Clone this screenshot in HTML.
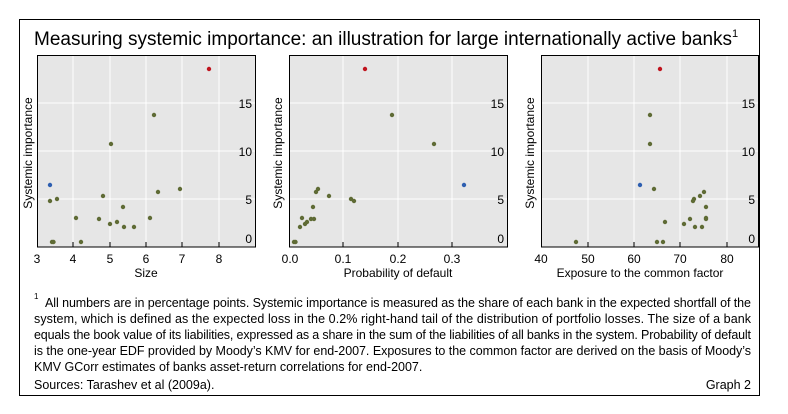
<!DOCTYPE html>
<html><head><meta charset="utf-8"><style>
html,body{margin:0;padding:0;background:#fff;}
svg{display:block;font-family:"Liberation Sans",Arial,sans-serif;}
</style></head><body>
<svg width="788" height="414" viewBox="0 0 788 414" xmlns="http://www.w3.org/2000/svg">
<rect x="19.5" y="19.5" width="740" height="376" fill="#fff" stroke="#000" stroke-width="1"/>
<text x="34" y="45" font-size="19" fill="#000">Measuring systemic importance: an illustration for large internationally active banks<tspan font-size="11" dy="-8">1</tspan></text>

<!-- Panel 1 -->
<g>
<rect x="37" y="55" width="218" height="192" fill="#e6e6e6"/>
<g stroke="#fff" stroke-width="1">
<line x1="73" y1="55" x2="73" y2="247"/><line x1="110" y1="55" x2="110" y2="247"/><line x1="146" y1="55" x2="146" y2="247"/><line x1="182" y1="55" x2="182" y2="247"/><line x1="219" y1="55" x2="219" y2="247"/>
<line x1="37" y1="199" x2="255" y2="199"/><line x1="37" y1="151" x2="255" y2="151"/><line x1="37" y1="103" x2="255" y2="103"/>
</g>
<rect x="37.5" y="55.5" width="218" height="191.5" fill="none" stroke="#000"/>
<g stroke="#000"><line x1="73" y1="242" x2="73" y2="247"/><line x1="110" y1="242" x2="110" y2="247"/><line x1="146" y1="242" x2="146" y2="247"/><line x1="182" y1="242" x2="182" y2="247"/><line x1="219" y1="242" x2="219" y2="247"/></g>
<g font-size="12" text-anchor="end" fill="#000"><text x="252" y="243">0</text><text x="252" y="204">5</text><text x="252" y="156">10</text><text x="252" y="108">15</text></g>
<g font-size="12" text-anchor="middle" fill="#000"><text x="37" y="263">3</text><text x="73" y="263">4</text><text x="110" y="263">5</text><text x="146" y="263">6</text><text x="182" y="263">7</text><text x="219" y="263">8</text>
<text x="146" y="277">Size</text></g>
<text transform="translate(32,153) rotate(-90)" font-size="12" text-anchor="middle">Systemic importance</text>
<g fill="#5f6b35">
<circle cx="154" cy="115" r="2.2"/><circle cx="111" cy="144" r="2.2"/><circle cx="180" cy="189" r="2.2"/><circle cx="158" cy="192" r="2.2"/><circle cx="103" cy="196" r="2.2"/><circle cx="57" cy="199" r="2.2"/><circle cx="50" cy="201" r="2.2"/><circle cx="123" cy="207" r="2.2"/><circle cx="76" cy="218" r="2.2"/><circle cx="99" cy="219" r="2.2"/><circle cx="150" cy="218" r="2.2"/><circle cx="117" cy="222" r="2.2"/><circle cx="110" cy="224" r="2.2"/><circle cx="124" cy="227" r="2.2"/><circle cx="134" cy="227" r="2.2"/><circle cx="52" cy="242" r="2.2"/><circle cx="53.5" cy="242" r="2.2"/><circle cx="81" cy="242" r="2.2"/>
</g>
<circle cx="209" cy="69" r="2.2" fill="#c0141e"/><circle cx="50" cy="185" r="2.2" fill="#2e5fb0"/>
</g>

<!-- Panel 2 -->
<g>
<rect x="289" y="55" width="218" height="192" fill="#e6e6e6"/>
<g stroke="#fff" stroke-width="1">
<line x1="343" y1="55" x2="343" y2="247"/><line x1="398" y1="55" x2="398" y2="247"/><line x1="452" y1="55" x2="452" y2="247"/>
<line x1="289" y1="199" x2="507" y2="199"/><line x1="289" y1="151" x2="507" y2="151"/><line x1="289" y1="103" x2="507" y2="103"/>
</g>
<rect x="289.5" y="55.5" width="218" height="191.5" fill="none" stroke="#000"/>
<g stroke="#000"><line x1="343" y1="242" x2="343" y2="247"/><line x1="398" y1="242" x2="398" y2="247"/><line x1="452" y1="242" x2="452" y2="247"/></g>
<g font-size="12" text-anchor="end"><text x="504" y="243">0</text><text x="504" y="204">5</text><text x="504" y="156">10</text><text x="504" y="108">15</text></g>
<g font-size="12" text-anchor="middle"><text x="290" y="263">0.0</text><text x="343" y="263">0.1</text><text x="398" y="263">0.2</text><text x="452" y="263">0.3</text>
<text x="398" y="277">Probability of default</text></g>
<text transform="translate(282,153) rotate(-90)" font-size="12" text-anchor="middle">Systemic importance</text>
<g fill="#5f6b35">
<circle cx="392" cy="115" r="2.2"/><circle cx="434" cy="144" r="2.2"/><circle cx="318" cy="189" r="2.2"/><circle cx="316" cy="192" r="2.2"/><circle cx="329" cy="196" r="2.2"/><circle cx="351" cy="199" r="2.2"/><circle cx="354" cy="201" r="2.2"/><circle cx="313" cy="207" r="2.2"/><circle cx="302" cy="218" r="2.2"/><circle cx="311" cy="219" r="2.2"/><circle cx="314" cy="219" r="2.2"/><circle cx="307" cy="222" r="2.2"/><circle cx="305" cy="224" r="2.2"/><circle cx="300" cy="227" r="2.2"/><circle cx="294" cy="242" r="2.2"/><circle cx="295.5" cy="242" r="2.2"/>
</g>
<circle cx="365" cy="69" r="2.2" fill="#c0141e"/><circle cx="464" cy="185" r="2.2" fill="#2e5fb0"/>
</g>

<!-- Panel 3 -->
<g>
<rect x="541" y="55" width="217" height="192" fill="#e6e6e6"/>
<g stroke="#fff" stroke-width="1">
<line x1="588" y1="55" x2="588" y2="247"/><line x1="634" y1="55" x2="634" y2="247"/><line x1="680" y1="55" x2="680" y2="247"/><line x1="727" y1="55" x2="727" y2="247"/>
<line x1="541" y1="199" x2="758" y2="199"/><line x1="541" y1="151" x2="758" y2="151"/><line x1="541" y1="103" x2="758" y2="103"/>
</g>
<rect x="541.5" y="55.5" width="217" height="191.5" fill="none" stroke="#000"/>
<g stroke="#000"><line x1="588" y1="242" x2="588" y2="247"/><line x1="634" y1="242" x2="634" y2="247"/><line x1="680" y1="242" x2="680" y2="247"/><line x1="727" y1="242" x2="727" y2="247"/></g>
<g font-size="12" text-anchor="end"><text x="755" y="243">0</text><text x="755" y="204">5</text><text x="755" y="156">10</text><text x="755" y="108">15</text></g>
<g font-size="12" text-anchor="middle"><text x="541" y="263">40</text><text x="588" y="263">50</text><text x="634" y="263">60</text><text x="680" y="263">70</text><text x="727" y="263">80</text>
<text x="640" y="277">Exposure to the common factor</text></g>
<text transform="translate(534,153) rotate(-90)" font-size="12" text-anchor="middle">Systemic importance</text>
<g fill="#5f6b35">
<circle cx="650" cy="115" r="2.2"/><circle cx="650" cy="144" r="2.2"/><circle cx="654" cy="189" r="2.2"/><circle cx="704" cy="192" r="2.2"/><circle cx="700" cy="196" r="2.2"/><circle cx="694" cy="199" r="2.2"/><circle cx="693" cy="201" r="2.2"/><circle cx="706" cy="207" r="2.2"/><circle cx="690" cy="219" r="2.2"/><circle cx="706" cy="218" r="2.2"/><circle cx="706" cy="219" r="2.2"/><circle cx="665" cy="222" r="2.2"/><circle cx="684" cy="224" r="2.2"/><circle cx="695" cy="227" r="2.2"/><circle cx="702" cy="227" r="2.2"/><circle cx="576" cy="242" r="2.2"/><circle cx="657" cy="242" r="2.2"/><circle cx="663" cy="242" r="2.2"/>
</g>
<circle cx="660" cy="69" r="2.2" fill="#c0141e"/><circle cx="640" cy="185" r="2.2" fill="#2e5fb0"/>
</g>

<!-- Footnote -->
<g font-size="12.5" fill="#000">
<text x="34" y="299" font-size="8">1</text>
<text x="45" y="307" textLength="706" lengthAdjust="spacing">All numbers are in percentage points. Systemic importance is measured as the share of each bank in the expected shortfall of the</text>
<text x="34" y="323" textLength="717" lengthAdjust="spacing">system, which is defined as the expected loss in the 0.2% right-hand tail of the distribution of portfolio losses. The size of a bank</text>
<text x="34" y="339" textLength="717" lengthAdjust="spacing">equals the book value of its liabilities, expressed as a share in the sum of the liabilities of all banks in the system. Probability of default</text>
<text x="34" y="355" textLength="717" lengthAdjust="spacing">is the one-year EDF provided by Moody’s KMV for end-2007. Exposures to the common factor are derived on the basis of Moody’s</text>
<text x="34" y="371">KMV GCorr estimates of banks asset-return correlations for end-2007.</text>
<text x="34" y="389">Sources: Tarashev et al (2009a).</text>
<text x="751" y="389" text-anchor="end">Graph 2</text>
</g>
</svg>
</body></html>
